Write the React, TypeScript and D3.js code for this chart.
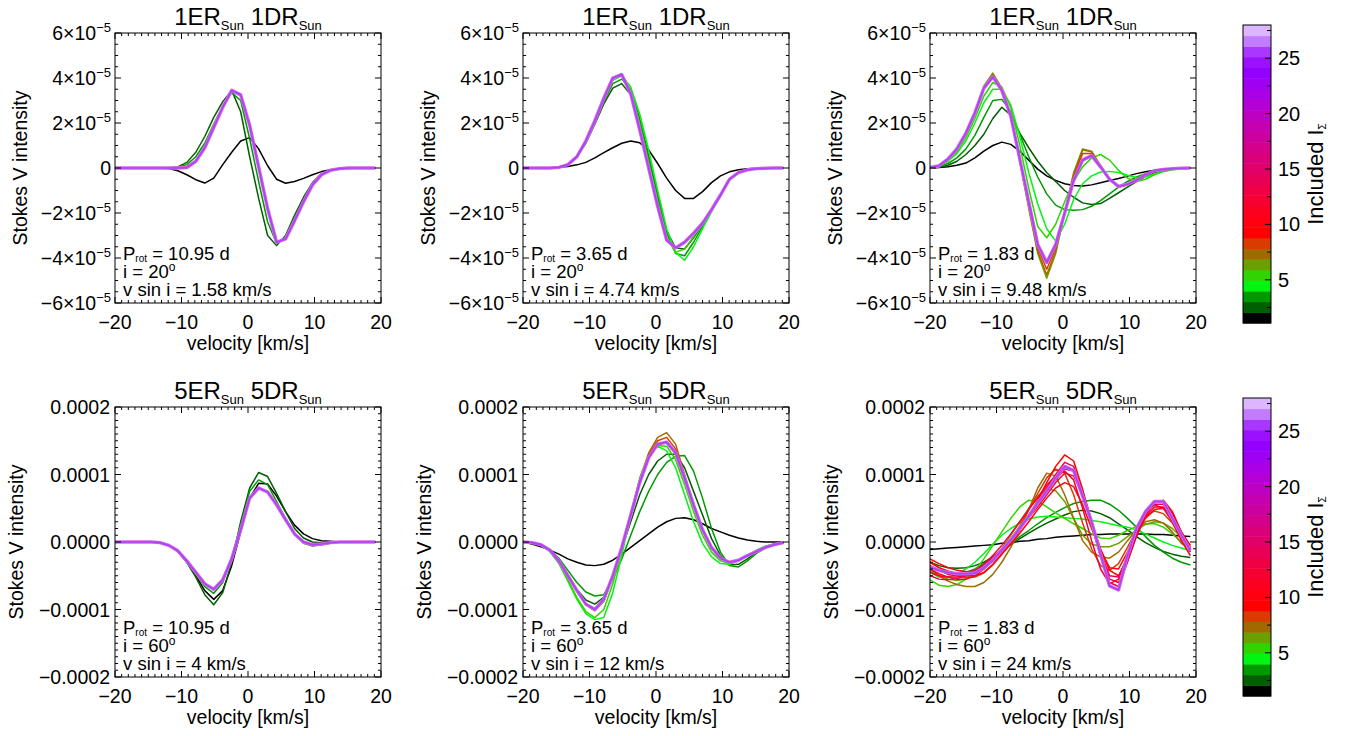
import React from 'react';
import * as d3 from 'd3';

const FONT = "'Liberation Sans', Arial, Helvetica, sans-serif";
const W = 1354;
const H = 736;

// ---------------- data ----------------
const velocity = [-20, -18.65, -17.3, -15.95, -14.6, -13.25, -11.9, -10.55, -9.2, -7.85, -6.5, -5.15, -3.8, -2.45, -1.1, 0.25, 1.6, 2.95, 4.3, 5.65, 7.0, 8.35, 9.7, 11.05, 12.4, 13.75, 15.1, 16.45, 17.8, 19.15];

const levelColors = [
  '#000000', '#005f00', '#009a00', '#00f510', '#30d400', '#6aa000', '#a06a00', '#d83c00',
  '#ff0000', '#ff0010', '#fc0020', '#f60032', '#ef0044', '#e80056', '#e10068', '#da007a',
  '#d3008c', '#cc009e', '#c500b0', '#be00c2', '#b400d4', '#aa00e6', '#9f00f4', '#9400ff',
  '#9a10ff', '#a838ff', '#c27cff', '#dcb6ff',
];
const colorbarTicks = [5, 10, 15, 20, 25];
const xTicks = [-20, -10, 0, 10, 20];
const topYTicks = [-6, -4, -2, 0, 2, 4, 6]; // x 1e-5
const bottomYTicks = [-0.0002, -0.0001, 0, 0.0001, 0.0002];

const titleNumbers = ['1', '1', '1', '5', '5', '5'];
const rotationPeriods = ['10.95', '3.65', '1.83', '10.95', '3.65', '1.83'];
const inclinations = ['20', '20', '20', '60', '60', '60'];
const vsiniValues = ['1.58', '4.74', '9.48', '4', '12', '24'];

// Panel 1 (units 1e-5)
const p1L1 = [0, 0, 0, 0, 0, 0, -0.02, -0.12, -0.3, -0.52, -0.67, -0.45, 0.15, 0.7, 1.2, 1.35, 0.85, 0.1, -0.5, -0.68, -0.6, -0.46, -0.3, -0.16, -0.08, -0.04, -0.02, 0, 0, 0];
const p1L2 = [0, 0, 0, 0, 0, 0, 0.01, 0.05, 0.25, 0.7, 1.4, 2.25, 2.95, 3.45, 2.5, 0.5, -1.35, -3.0, -3.45, -3.0, -2.1, -1.3, -0.65, -0.25, -0.08, -0.02, 0, 0, 0, 0];
const p1L3 = [0, 0, 0, 0, 0, 0, 0, 0.03, 0.15, 0.5, 1.1, 1.95, 2.75, 3.35, 3.0, 1.3, -0.6, -2.4, -3.35, -3.1, -2.2, -1.4, -0.7, -0.28, -0.08, -0.02, 0, 0, 0, 0];
const p1Group = [0, 0, 0, 0, 0, 0, 0, 0, 0.02, 0.3, 0.9, 1.8, 2.7, 3.45, 3.25, 1.9, 0.05, -1.8, -3.3, -3.15, -2.35, -1.5, -0.75, -0.3, -0.1, -0.03, 0, 0, 0, 0];

// Panel 2 (units 1e-5)
const p2L1 = [0, 0, 0, 0.01, 0.03, 0.07, 0.14, 0.25, 0.45, 0.68, 0.9, 1.1, 1.2, 1.12, 0.8, 0.2, -0.45, -1.0, -1.35, -1.35, -1.05, -0.65, -0.35, -0.17, -0.08, -0.03, -0.01, 0, 0, 0];
const p2L2 = [0, 0, 0, 0, 0.03, 0.15, 0.5, 1.1, 1.95, 2.85, 3.55, 3.75, 3.25, 2.0, 0.4, -1.3, -2.8, -3.55, -3.6, -3.1, -2.5, -1.85, -1.2, -0.5, -0.2, -0.08, -0.03, -0.01, 0, 0];
const p2L3 = [0, 0, 0, 0, 0.03, 0.15, 0.5, 1.15, 2.0, 2.95, 3.75, 3.95, 3.5, 2.2, 0.55, -1.2, -2.9, -3.8, -3.9, -3.3, -2.6, -1.9, -1.2, -0.5, -0.2, -0.08, -0.03, -0.01, 0, 0];
const p2L4 = [0, 0, 0, 0, 0.03, 0.15, 0.5, 1.2, 2.1, 3.05, 3.9, 4.1, 3.6, 2.4, 0.8, -1.0, -2.7, -3.75, -4.1, -3.5, -2.7, -1.95, -1.2, -0.5, -0.2, -0.08, -0.03, -0.01, 0, 0];
const p2L5 = [0, 0, 0, 0, 0.03, 0.15, 0.5, 1.2, 2.1, 3.1, 4.0, 4.2, 3.45, 1.95, 0.25, -1.5, -3.1, -3.75, -3.6, -3.05, -2.5, -1.85, -1.2, -0.5, -0.2, -0.08, -0.03, -0.01, 0, 0];
const p2Group = [0, 0, 0, 0, 0.03, 0.15, 0.5, 1.2, 2.1, 3.1, 4.0, 4.15, 3.3, 1.7, 0.0, -1.7, -3.2, -3.55, -3.3, -2.9, -2.45, -1.85, -1.2, -0.5, -0.2, -0.08, -0.03, -0.01, 0, 0];

// Panel 3 (units 1e-5)
const p3L1 = [0, 0.02, 0.06, 0.12, 0.22, 0.45, 0.75, 1.0, 1.15, 1.05, 0.75, 0.35, -0.05, -0.35, -0.55, -0.7, -0.78, -0.8, -0.75, -0.66, -0.56, -0.47, -0.36, -0.25, -0.17, -0.1, -0.06, -0.03, -0.01, 0];
const p3L2 = [0, 0.03, 0.12, 0.3, 0.6, 1.0, 1.5, 2.2, 2.7, 2.35, 1.55, 0.9, 0.3, -0.2, -0.6, -1.0, -1.3, -1.55, -1.62, -1.58, -1.35, -1.1, -0.85, -0.6, -0.38, -0.2, -0.1, -0.05, -0.02, 0];
const p3L3 = [0, 0.05, 0.2, 0.45, 0.85, 1.45, 2.25, 3.0, 3.05, 2.5, 1.5, 0.5, -0.4, -1.15, -1.65, -1.85, -1.88, -1.85, -1.7, -1.45, -1.15, -0.85, -0.6, -0.4, -0.25, -0.14, -0.08, -0.04, -0.02, 0];
const p3L4 = [0.01, 0.07, 0.3, 0.65, 1.2, 2.0, 2.9, 3.5, 3.5, 2.8, 1.4, -0.2, -1.6, -2.7, -3.25, -2.5, -1.4, -0.7, -0.35, -0.18, -0.15, -0.2, -0.32, -0.42, -0.4, -0.28, -0.16, -0.08, -0.03, 0];
const p3L5 = [0.01, 0.08, 0.33, 0.72, 1.35, 2.2, 3.2, 3.8, 3.6, 2.7, 1.0, -0.9, -2.6, -3.1, -2.5, -1.5, -0.6, 0.05, 0.45, 0.6, 0.35, -0.1, -0.45, -0.6, -0.5, -0.3, -0.15, -0.07, -0.03, 0];
const p3L6 = [0.02, 0.1, 0.4, 0.85, 1.55, 2.5, 3.65, 4.22, 3.55, 2.35, 0.3, -1.8, -3.8, -4.9, -3.8, -2.0, -0.2, 0.85, 0.75, 0.1, -0.5, -0.85, -0.75, -0.5, -0.3, -0.15, -0.08, -0.04, -0.02, 0];
const p3L7 = [0.02, 0.1, 0.4, 0.85, 1.55, 2.48, 3.6, 4.15, 3.5, 2.35, 0.35, -1.7, -3.7, -4.75, -3.7, -2.0, -0.3, 0.8, 0.72, 0.1, -0.5, -0.85, -0.75, -0.5, -0.3, -0.15, -0.08, -0.04, -0.02, 0];
const p3L8 = [0.02, 0.1, 0.4, 0.85, 1.55, 2.46, 3.58, 4.1, 3.48, 2.32, 0.38, -1.6, -3.55, -4.5, -3.55, -2.0, -0.4, 0.65, 0.65, 0.08, -0.5, -0.84, -0.74, -0.5, -0.3, -0.15, -0.08, -0.04, -0.02, 0];
const p3Group = [0.02, 0.1, 0.4, 0.85, 1.55, 2.45, 3.55, 4.05, 3.45, 2.3, 0.4, -1.5, -3.4, -4.2, -3.4, -2.0, -0.55, 0.35, 0.55, 0.05, -0.5, -0.82, -0.72, -0.55, -0.3, -0.12, -0.06, -0.03, -0.01, 0];

// Panel 4 (units 1e-4)
const p4L1 = [0, 0, 0, 0, 0, -0.01, -0.05, -0.14, -0.3, -0.5, -0.72, -0.85, -0.72, -0.35, 0.15, 0.65, 0.87, 0.86, 0.68, 0.45, 0.25, 0.12, 0.05, 0.02, 0.01, 0, 0, 0, 0, 0];
const p4L2 = [0, 0, 0, 0, 0, -0.01, -0.05, -0.14, -0.3, -0.52, -0.78, -0.93, -0.75, -0.3, 0.3, 0.8, 1.03, 0.97, 0.72, 0.45, 0.2, 0.06, 0, -0.01, 0, 0, 0, 0, 0, 0];
const p4L3 = [0, 0, 0, 0, 0, -0.01, -0.05, -0.13, -0.28, -0.47, -0.66, -0.76, -0.6, -0.22, 0.25, 0.75, 0.92, 0.85, 0.6, 0.35, 0.12, -0.02, -0.06, -0.04, -0.02, 0, 0, 0, 0, 0];
const p4Group = [0, 0, 0, 0, 0, -0.01, -0.05, -0.13, -0.28, -0.45, -0.62, -0.7, -0.56, -0.25, 0.18, 0.65, 0.8, 0.74, 0.55, 0.33, 0.12, 0, -0.04, -0.03, -0.01, 0, 0, 0, 0, 0];

// Panel 5 (units 1e-4)
const p5L1 = [0, -0.03, -0.07, -0.12, -0.18, -0.25, -0.3, -0.34, -0.35, -0.33, -0.27, -0.18, -0.08, 0.02, 0.12, 0.22, 0.3, 0.35, 0.36, 0.33, 0.27, 0.2, 0.15, 0.1, 0.06, 0.03, 0.01, 0, 0, 0];
const p5L2 = [0, -0.01, -0.04, -0.12, -0.27, -0.48, -0.7, -0.86, -0.92, -0.82, -0.5, -0.1, 0.3, 0.7, 1.0, 1.2, 1.3, 1.3, 1.1, 0.75, 0.4, 0.05, -0.2, -0.34, -0.33, -0.25, -0.15, -0.08, -0.03, -0.01];
const p5L3 = [0, -0.01, -0.04, -0.11, -0.24, -0.42, -0.6, -0.74, -0.8, -0.78, -0.55, -0.25, 0.1, 0.45, 0.75, 1.0, 1.18, 1.27, 1.28, 1.05, 0.65, 0.2, -0.15, -0.35, -0.37, -0.28, -0.17, -0.09, -0.04, -0.01];
const p5L4 = [0, -0.01, -0.05, -0.14, -0.32, -0.58, -0.85, -1.06, -1.15, -1.12, -0.75, -0.2, 0.4, 0.95, 1.3, 1.42, 1.35, 1.1, 0.7, 0.3, -0.02, -0.22, -0.32, -0.33, -0.28, -0.2, -0.12, -0.06, -0.03, -0.01];
const p5L5 = [0, -0.01, -0.05, -0.14, -0.31, -0.56, -0.82, -1.03, -1.12, -1.0, -0.62, -0.12, 0.42, 0.92, 1.28, 1.43, 1.42, 1.22, 0.85, 0.45, 0.1, -0.15, -0.28, -0.32, -0.28, -0.2, -0.13, -0.07, -0.03, -0.01];
const p5L7 = [0, -0.01, -0.04, -0.12, -0.28, -0.5, -0.72, -0.93, -1.02, -0.88, -0.52, -0.08, 0.42, 0.92, 1.32, 1.55, 1.62, 1.45, 1.0, 0.55, 0.17, -0.1, -0.25, -0.31, -0.27, -0.2, -0.14, -0.08, -0.04, -0.01];
const p5L8 = [0, -0.01, -0.04, -0.12, -0.28, -0.5, -0.72, -0.92, -1.01, -0.86, -0.51, -0.08, 0.41, 0.9, 1.29, 1.5, 1.55, 1.38, 0.96, 0.54, 0.17, -0.09, -0.24, -0.3, -0.27, -0.2, -0.14, -0.08, -0.04, -0.01];
const p5Group = [0, -0.01, -0.04, -0.12, -0.28, -0.5, -0.72, -0.92, -1.0, -0.85, -0.5, -0.08, 0.4, 0.88, 1.25, 1.45, 1.48, 1.32, 0.95, 0.55, 0.18, -0.08, -0.24, -0.3, -0.27, -0.2, -0.14, -0.08, -0.04, -0.01];

// Panel 6 (units 1e-4)
const p6L1 = [-0.11, -0.1, -0.09, -0.08, -0.07, -0.06, -0.05, -0.04, -0.02, -0.01, 0.01, 0.02, 0.04, 0.05, 0.07, 0.08, 0.09, 0.1, 0.11, 0.11, 0.12, 0.12, 0.12, 0.12, 0.12, 0.11, 0.11, 0.1, 0.09, 0.08];
const p6L2 = [-0.3, -0.35, -0.38, -0.39, -0.38, -0.35, -0.3, -0.22, -0.13, -0.04, 0.05, 0.13, 0.21, 0.28, 0.34, 0.4, 0.45, 0.47, 0.46, 0.42, 0.36, 0.27, 0.18, 0.08, -0.01, -0.08, -0.14, -0.18, -0.21, -0.23];
const p6L3 = [-0.35, -0.42, -0.46, -0.47, -0.45, -0.4, -0.32, -0.22, -0.12, -0.02, 0.08, 0.17, 0.27, 0.36, 0.44, 0.51, 0.57, 0.6, 0.62, 0.62, 0.56, 0.47, 0.35, 0.22, 0.08, -0.05, -0.15, -0.24, -0.3, -0.34];
const p6L4 = [-0.45, -0.52, -0.52, -0.48, -0.4, -0.3, -0.17, -0.03, 0.1, 0.2, 0.28, 0.34, 0.37, 0.38, 0.37, 0.36, 0.35, 0.34, 0.32, 0.3, 0.27, 0.24, 0.22, 0.18, 0.12, 0.06, 0.0, -0.05, -0.09, -0.13];
const p6L5 = [-0.56, -0.64, -0.66, -0.63, -0.55, -0.42, -0.25, -0.05, 0.15, 0.35, 0.52, 0.62, 0.6, 0.52, 0.43, 0.35, 0.27, 0.2, 0.12, 0.06, 0.05, 0.1, 0.17, 0.23, 0.27, 0.27, 0.22, 0.12, 0.0, -0.1];
const p6L6 = [-0.42, -0.5, -0.55, -0.57, -0.55, -0.5, -0.4, -0.27, -0.1, 0.1, 0.3, 0.5, 0.68, 0.79, 0.76, 0.6, 0.35, 0.1, -0.03, -0.07, -0.07, -0.02, 0.08, 0.18, 0.26, 0.3, 0.28, 0.2, 0.07, -0.05];
const p6L7 = [-0.4, -0.5, -0.58, -0.63, -0.66, -0.66, -0.6, -0.48, -0.3, -0.08, 0.18, 0.48, 0.8, 1.02, 0.98, 0.7, 0.35, 0.02, -0.15, -0.22, -0.24, -0.15, 0.02, 0.18, 0.3, 0.33, 0.28, 0.15, -0.02, -0.1];
const p6L8 = [-0.3, -0.38, -0.45, -0.5, -0.53, -0.52, -0.46, -0.34, -0.18, 0.02, 0.24, 0.48, 0.72, 0.95, 1.08, 1.02, 0.7, 0.28, -0.1, -0.35, -0.42, -0.32, -0.08, 0.18, 0.38, 0.46, 0.42, 0.28, 0.05, -0.12];
const p6L9 = [-0.25, -0.32, -0.38, -0.42, -0.44, -0.43, -0.38, -0.28, -0.15, 0.0, 0.18, 0.38, 0.62, 0.88, 1.12, 1.29, 1.2, 0.78, 0.3, -0.1, -0.42, -0.5, -0.25, 0.1, 0.4, 0.58, 0.62, 0.45, 0.15, -0.08];
const p6L10 = [-0.3, -0.38, -0.43, -0.47, -0.5, -0.5, -0.45, -0.33, -0.18, -0.03, 0.13, 0.3, 0.48, 0.65, 0.8, 0.88, 0.82, 0.55, 0.2, -0.12, -0.38, -0.4, -0.15, 0.12, 0.35, 0.48, 0.5, 0.38, 0.15, -0.05];
const p6L11 = [-0.4, -0.47, -0.52, -0.55, -0.55, -0.5, -0.4, -0.27, -0.12, 0.03, 0.2, 0.36, 0.52, 0.7, 0.88, 1.02, 0.98, 0.7, 0.25, -0.2, -0.55, -0.6, -0.28, 0.08, 0.38, 0.52, 0.52, 0.35, 0.08, -0.15];
const p6L12 = [-0.45, -0.5, -0.52, -0.52, -0.48, -0.42, -0.33, -0.2, -0.05, 0.12, 0.3, 0.48, 0.66, 0.84, 0.98, 1.05, 0.92, 0.5, 0.02, -0.4, -0.62, -0.55, -0.2, 0.18, 0.45, 0.55, 0.5, 0.3, 0.02, -0.2];
const p6L13 = [-0.35, -0.42, -0.48, -0.5, -0.5, -0.47, -0.4, -0.28, -0.13, 0.03, 0.2, 0.4, 0.6, 0.8, 1.0, 1.18, 1.12, 0.72, 0.25, -0.22, -0.6, -0.66, -0.3, 0.1, 0.42, 0.56, 0.56, 0.38, 0.1, -0.12];
const p6L14 = [-0.5, -0.55, -0.56, -0.54, -0.5, -0.44, -0.35, -0.23, -0.1, 0.05, 0.22, 0.4, 0.58, 0.76, 0.92, 1.08, 1.05, 0.75, 0.32, -0.15, -0.5, -0.52, -0.22, 0.14, 0.44, 0.6, 0.6, 0.42, 0.12, -0.1];
const p6Group = [-0.37, -0.42, -0.45, -0.47, -0.47, -0.46, -0.38, -0.27, -0.12, 0.03, 0.2, 0.38, 0.58, 0.75, 0.95, 1.12, 1.06, 0.68, 0.3, -0.18, -0.65, -0.71, -0.2, 0.2, 0.45, 0.6, 0.6, 0.35, 0.1, -0.12];

type Curve = { level: number; values: number[] };
const panelCurves: Curve[][] = [
  [{ level: 1, values: p1L1 }, { level: 2, values: p1L2 }, { level: 3, values: p1L3 }],
  [{ level: 1, values: p2L1 }, { level: 2, values: p2L2 }, { level: 3, values: p2L3 }, { level: 4, values: p2L4 }, { level: 5, values: p2L5 }],
  [{ level: 1, values: p3L1 }, { level: 2, values: p3L2 }, { level: 3, values: p3L3 }, { level: 4, values: p3L4 }, { level: 5, values: p3L5 }, { level: 6, values: p3L6 }, { level: 7, values: p3L7 }, { level: 8, values: p3L8 }],
  [{ level: 1, values: p4L1 }, { level: 2, values: p4L2 }, { level: 3, values: p4L3 }],
  [{ level: 1, values: p5L1 }, { level: 2, values: p5L2 }, { level: 3, values: p5L3 }, { level: 4, values: p5L4 }, { level: 5, values: p5L5 }, { level: 7, values: p5L7 }, { level: 8, values: p5L8 }],
  [{ level: 1, values: p6L1 }, { level: 2, values: p6L2 }, { level: 3, values: p6L3 }, { level: 4, values: p6L4 }, { level: 5, values: p6L5 }, { level: 6, values: p6L6 }, { level: 7, values: p6L7 }, { level: 8, values: p6L8 }, { level: 9, values: p6L9 }, { level: 10, values: p6L10 }, { level: 11, values: p6L11 }, { level: 12, values: p6L12 }, { level: 13, values: p6L13 }, { level: 14, values: p6L14 }],
];
const panelGroups = [p1Group, p2Group, p3Group, p4Group, p5Group, p6Group];

// ---------------- layout ----------------
const COL_LEFT = [115, 523, 930];
const ROW_TOP = [33, 407];
const PW = 266;
const PH = 270;
const CB_X = 1243;
const CB_W = 28;
const CB_TOP = [25, 398];
const CB_H = 298;
const FS = 19.5;

const GROUP_UNDER = '#da66e6';
const GROUP_TOP = '#a845f6';

const minus = (s: string) => s.replace('-', '\u2212');

function Panel({ index }: { index: number }) {
  const col = index % 3;
  const row = Math.floor(index / 3);
  const left = COL_LEFT[col];
  const top = ROW_TOP[row];
  const unit = row === 0 ? 1e-5 : 1e-4;
  const yMax = row === 0 ? 6e-5 : 2e-4;
  const x = d3.scaleLinear().domain([-20, 20]).range([left, left + PW]);
  const y = d3.scaleLinear().domain([-yMax, yMax]).range([top + PH, top]);
  const line = d3
    .line<number>()
    .x((_, i) => x(velocity[i]))
    .y((d) => y(d * unit));
  const clipId = `clip-${index}`;

  const xMinor = d3.range(-20, 20.001, 1).filter((v) => Math.abs(Math.round(v) % 10) !== 0);
  const yMajor = row === 0 ? topYTicks.map((t) => t * 1e-5) : bottomYTicks;
  const yStep = row === 0 ? 0.5e-5 : 1e-5;
  const yMinor = d3
    .range(-yMax, yMax + yStep / 2, yStep)
    .filter((v) => !yMajor.some((m) => Math.abs(m - v) < yStep / 10));
  const MAJ = 6;
  const MIN = 3;
  const bottom = top + PH;
  const right = left + PW;
  const fmtB = d3.format('.4f');

  const ticks: React.ReactNode[] = [];
  xTicks.forEach((t, i) => {
    const px = x(t);
    ticks.push(<line key={`xb${i}`} x1={px} x2={px} y1={bottom} y2={bottom - MAJ} />);
    ticks.push(<line key={`xt${i}`} x1={px} x2={px} y1={top} y2={top + MAJ} />);
  });
  xMinor.forEach((t, i) => {
    const px = x(t);
    ticks.push(<line key={`xbm${i}`} x1={px} x2={px} y1={bottom} y2={bottom - MIN} />);
    ticks.push(<line key={`xtm${i}`} x1={px} x2={px} y1={top} y2={top + MIN} />);
  });
  yMajor.forEach((t, i) => {
    const py = y(t);
    ticks.push(<line key={`yl${i}`} x1={left} x2={left + MAJ} y1={py} y2={py} />);
    ticks.push(<line key={`yr${i}`} x1={right} x2={right - MAJ} y1={py} y2={py} />);
  });
  yMinor.forEach((t, i) => {
    const py = y(t);
    ticks.push(<line key={`ylm${i}`} x1={left} x2={left + MIN} y1={py} y2={py} />);
    ticks.push(<line key={`yrm${i}`} x1={right} x2={right - MIN} y1={py} y2={py} />);
  });

  return (
    <g>
      <defs>
        <clipPath id={clipId}>
          <rect x={left} y={top} width={PW} height={PH} />
        </clipPath>
      </defs>
      <g clipPath={`url(#${clipId})`} fill="none" strokeLinejoin="round">
        {panelCurves[index].map((c, i) => (
          <path key={i} d={line(c.values) || ''} stroke={levelColors[c.level - 1]} strokeWidth={1.5} />
        ))}
        <path d={line(panelGroups[index]) || ''} stroke={GROUP_UNDER} strokeWidth={3.4} />
        <path d={line(panelGroups[index]) || ''} stroke={GROUP_TOP} strokeWidth={1.7} />
      </g>
      <rect x={left} y={top} width={PW} height={PH} fill="none" stroke="#000" strokeWidth={1} />
      <g stroke="#000" strokeWidth={1}>{ticks}</g>
      {/* x tick labels */}
      {xTicks.map((t, i) => (
        <text key={`xl${i}`} x={x(t)} y={bottom + 26} textAnchor="middle" fontSize={FS}>
          {minus(String(t))}
        </text>
      ))}
      {/* y tick labels */}
      {yMajor.map((t, i) => {
        const py = y(t) + 7;
        if (row === 0) {
          const m = Math.round(t / 1e-5);
          return (
            <text key={`ylab${i}`} x={left - 4} y={py} textAnchor="end" fontSize={FS}>
              {m === 0 ? (
                '0'
              ) : (
                <>
                  {`${m < 0 ? '\u2212' : ''}${Math.abs(m)}\u00d710`}
                  <tspan dy={-8} fontSize={13}>
                    {'\u22125'}
                  </tspan>
                </>
              )}
            </text>
          );
        }
        return (
          <text key={`ylab${i}`} x={left - 5} y={py} textAnchor="end" fontSize={FS}>
            {minus(fmtB(t))}
          </text>
        );
      })}
      {/* title */}
      <text x={left + PW / 2} y={top - 8} textAnchor="middle" fontSize={24} style={{ whiteSpace: 'pre' }}>
        {`${titleNumbers[index]}ER`}
        <tspan fontSize={13} dy={5}>
          Sun
        </tspan>
        <tspan dy={-5}>{` ${titleNumbers[index]}DR`}</tspan>
        <tspan fontSize={13} dy={5}>
          Sun
        </tspan>
      </text>
      {/* axis titles */}
      <text x={left + PW / 2} y={bottom + 47} textAnchor="middle" fontSize={FS}>
        velocity [km/s]
      </text>
      <text
        x={left - (row === 0 ? 88 : 92)}
        y={top + PH / 2}
        textAnchor="middle"
        fontSize={FS}
        transform={`rotate(-90, ${left - (row === 0 ? 88 : 92)}, ${top + PH / 2})`}
      >
        Stokes V intensity
      </text>
      {/* annotation */}
      <g fontSize={18.5} style={{ whiteSpace: 'pre' }}>
        <text x={left + 8} y={bottom - 43}>
          P
          <tspan fontSize={10} dy={2}>
            rot
          </tspan>
          <tspan dy={-2}>{` = ${rotationPeriods[index]} d`}</tspan>
        </text>
        <text x={left + 8} y={bottom - 25}>
          {`i = ${inclinations[index]}`}
          <tspan fontSize={12} dy={-7}>
            o
          </tspan>
        </text>
        <text x={left + 8} y={bottom - 7}>
          {`v sin i = ${vsiniValues[index]} km/s`}
        </text>
      </g>
    </g>
  );
}

function Colorbar({ row }: { row: number }) {
  const top = CB_TOP[row];
  const s = d3.scaleLinear().domain([1.1, 28]).range([top + CB_H, top]);
  const bandH = CB_H / levelColors.length;
  const tickVals = d3.range(2.5, 28, 2.5);
  const lx = 1323;
  const ly = top + CB_H / 2;
  return (
    <g>
      {levelColors.map((c, i) => (
        <rect key={i} x={CB_X} y={top + CB_H - (i + 1) * bandH} width={CB_W} height={bandH + 0.5} fill={c} />
      ))}
      <rect x={CB_X} y={top} width={CB_W} height={CB_H} fill="none" stroke="#000" strokeWidth={1} />
      <g stroke="#000" strokeWidth={1}>
        {tickVals.map((v, i) => {
          const major = Math.abs(v % 5) < 1e-6;
          return <line key={i} x1={CB_X + CB_W} x2={CB_X + CB_W - (major ? 6 : 4)} y1={s(v)} y2={s(v)} />;
        })}
      </g>
      {colorbarTicks.map((v, i) => (
        <text key={i} x={1278} y={s(v) + 7} fontSize={20}>
          {v}
        </text>
      ))}
      <text x={lx} y={ly} textAnchor="middle" fontSize={22} transform={`rotate(-90, ${lx}, ${ly})`}>
        Included I
        <tspan fontSize={10} dy={3}>
          {'\u03a3'}
        </tspan>
      </text>
    </g>
  );
}

export default function App() {
  return (
    <svg
      width={W}
      height={H}
      viewBox={`0 0 ${W} ${H}`}
      style={{ position: 'absolute', left: 0, top: 0, background: '#fff' }}
      fontFamily={FONT}
      fill="#000"
    >
      <rect x={0} y={0} width={W} height={H} fill="#fff" />
      {[0, 1, 2, 3, 4, 5].map((i) => (
        <Panel key={i} index={i} />
      ))}
      <Colorbar row={0} />
      <Colorbar row={1} />
    </svg>
  );
}
